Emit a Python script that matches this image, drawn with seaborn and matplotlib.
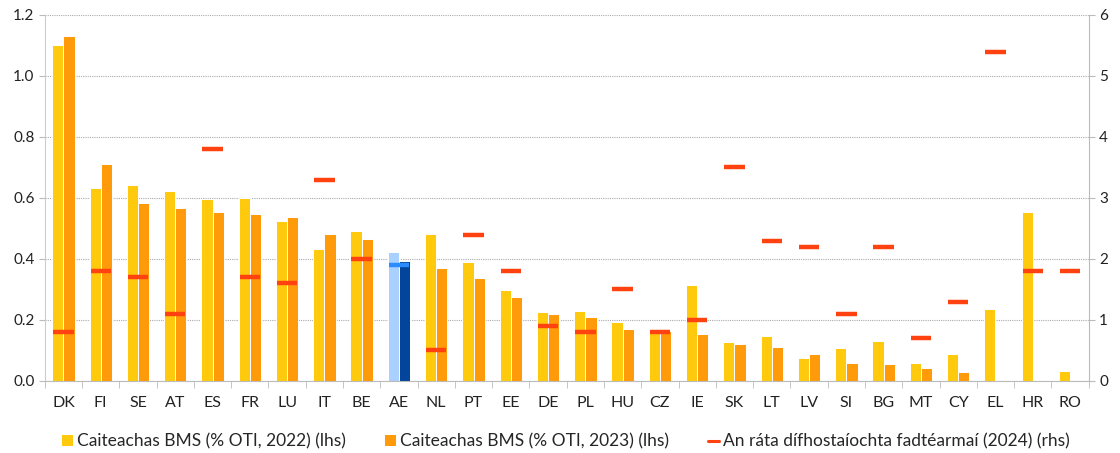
"""
BMS spending vs long-term unemployment, by country
"""

import numpy as np
import pandas as pd
import matplotlib
matplotlib.use('Agg')
import matplotlib.pyplot as plt
import seaborn as sns
from matplotlib.patches import Patch
from matplotlib.lines import Line2D
from matplotlib.ticker import FixedLocator, FormatStrFormatter

countries = ['DK', 'FI', 'SE', 'AT', 'ES', 'FR', 'LU', 'IT', 'BE', 'AE', 'NL', 'PT', 'EE',
             'DE', 'PL', 'HU', 'CZ', 'IE', 'SK', 'LT', 'LV', 'SI', 'BG', 'MT', 'CY', 'EL',
             'HR', 'RO']
spend_2022 = [1.10, 0.632, 0.643, 0.624, 0.598, 0.600, 0.525, 0.434, 0.493, 0.422, 0.483,
              0.389, 0.298, 0.227, 0.231, 0.193, 0.163, 0.316, 0.129, 0.149, 0.076, 0.108,
              0.130, 0.059, 0.088, 0.236, 0.554, 0.033]
spend_2023 = [1.131, 0.712, 0.583, 0.566, 0.553, 0.549, 0.538, 0.483, 0.466, 0.393, 0.369,
              0.339, 0.274, 0.219, 0.210, 0.171, 0.163, 0.155, 0.122, 0.111, 0.087, 0.059,
              0.057, 0.044, 0.028, np.nan, np.nan, np.nan]
ltu_rate_2024 = [0.8, 1.8, 1.7, 1.1, 3.8, 1.7, 1.6, 3.3, 2.0, 1.9, 0.5, 2.4, 1.8, 0.9, 0.8,
                 1.5, 0.8, 1.0, 3.5, 2.3, 2.2, 1.1, 2.2, 0.7, 1.3, 5.4, 1.8, 1.8]

labels = ['Caiteachas BMS (% OTI, 2022) (lhs)',
          'Caiteachas BMS (% OTI, 2023) (lhs)',
          'An ráta dífhostaíochta fadtéarmaí (2024) (rhs)']

col_22, col_23, col_rate = '#FFC90E', '#FF9A0A', '#FF4210'
ae_22, ae_23, ae_rate = '#A9D0FF', '#02459A', '#2A8CFF'

sns.set_style('white')
plt.rcParams['font.family'] = ['Lato', 'DejaVu Sans']

df = pd.DataFrame({
    'country': countries * 2,
    'year': ['2022'] * len(countries) + ['2023'] * len(countries),
    'value': spend_2022 + spend_2023,
})

fig, ax = plt.subplots(figsize=(11.2, 4.53), dpi=100)
fig.subplots_adjust(left=0.040, right=0.972, top=0.967, bottom=0.159)

sns.barplot(data=df, x='country', y='value', hue='year', order=countries,
            hue_order=['2022', '2023'], palette=[col_22, col_23], width=0.6,
            saturation=1, edgecolor='white', linewidth=0.7, legend=False, ax=ax)

# recolour the euro-area pair
ae = countries.index('AE')
for p in ax.patches:
    cx = p.get_x() + p.get_width() / 2
    if abs(cx - ae) < 0.5:
        p.set_facecolor(ae_22 if cx < ae else ae_23)

ax.set_xlim(-0.5, len(countries) - 0.5)
ax.set_ylim(0, 1.2)
ax.set_yticks(np.arange(0, 1.21, 0.2))
ax.yaxis.set_major_formatter(FormatStrFormatter('%.1f'))
ax.set_xlabel('')
ax.set_ylabel('')
ax.xaxis.set_minor_locator(FixedLocator(np.arange(-0.5, len(countries), 1.0)))
ax.tick_params(axis='x', which='major', length=0, pad=11, labelsize=11.5, colors='#222222')
ax.tick_params(axis='x', which='minor', length=5, color='#BBBBBB', bottom=True)
ax.tick_params(axis='y', length=4, color='#BBBBBB', labelsize=11, colors='#222222', left=True)
ax.yaxis.grid(True, color='#AAAAAA', linestyle=(0, (1, 1)), linewidth=0.8)
ax.set_axisbelow(True)
for s in ['top', 'right']:
    ax.spines[s].set_visible(False)
ax.spines['left'].set_color('#CCCCCC')
ax.spines['bottom'].set_color('#BBBBBB')

# long-term unemployment markers on right axis
ax2 = ax.twinx()
xpos = np.arange(len(countries))
rate_cols = [ae_rate if c == 'AE' else col_rate for c in countries]
sns.scatterplot(x=xpos, y=ltu_rate_2024, marker='_', s=215, linewidth=3.2,
                hue=countries, palette=rate_cols, legend=False, ax=ax2, zorder=5)
ax2.set_ylim(0, 6)
ax2.set_yticks(range(0, 7))
ax2.set_xlim(-0.5, len(countries) - 0.5)
ax2.tick_params(axis='y', length=4, color='#BBBBBB', labelsize=11, colors='#222222', right=True)
for s in ['top', 'left', 'bottom']:
    ax2.spines[s].set_visible(False)
ax2.spines['right'].set_color('#BBBBBB')

handles = [
    Patch(facecolor=col_22, edgecolor='none'),
    Patch(facecolor=col_23, edgecolor='none'),
    Line2D([0], [0], color=col_rate, linewidth=2.2, linestyle='-'),
]
fig.legend(handles, labels, loc='center left', bbox_to_anchor=(0.0554, 0.026), ncol=3,
           frameon=False, fontsize=12.5, handlelength=0.63, handleheight=0.58,
           handletextpad=0.23, columnspacing=2.25, borderpad=0, borderaxespad=0)

plt.savefig('out.png', dpi=100)
plt.close()
